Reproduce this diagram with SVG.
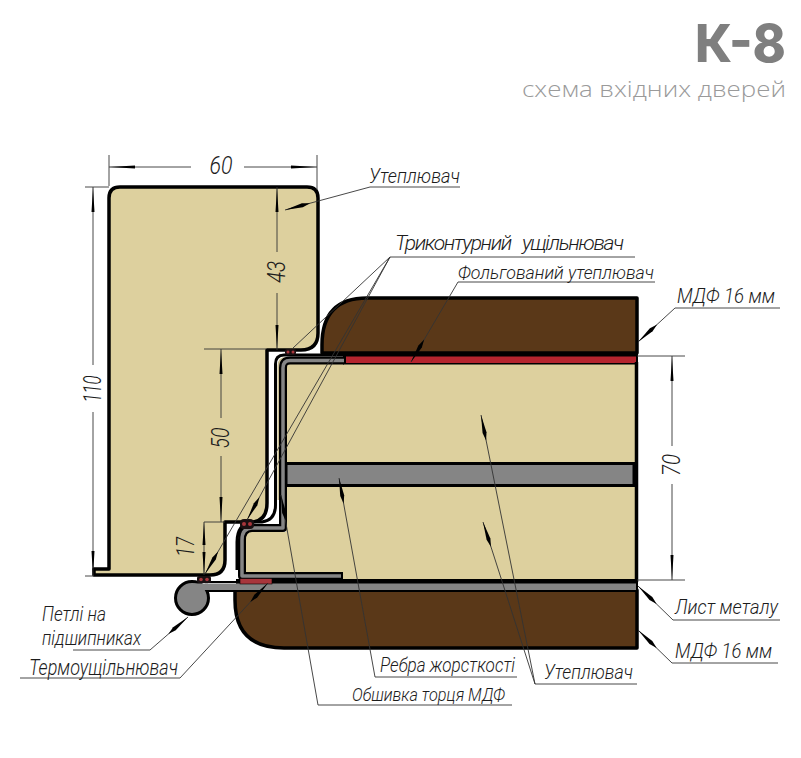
<svg xmlns="http://www.w3.org/2000/svg" width="801" height="758" viewBox="0 0 801 758">
<style>
.o{stroke:#000;stroke-width:3.500;stroke-linejoin:round}
.core{fill:#DDD09E}
.mdf{fill:#5A3818}
.ln{fill:none;stroke:#333;stroke-width:.9}
.l{font-family:"Roboto","Liberation Sans",sans-serif;font-style:italic;font-weight:300;font-size:21px;fill:#1c1c1c}
.d{font-family:"Roboto","Liberation Sans",sans-serif;font-style:italic;font-weight:300;font-size:25px;fill:#1c1c1c;text-anchor:middle}
.seal{fill:#1a1012}
.dot{fill:#A8363C}
</style>
<defs>
<marker id="a" markerUnits="userSpaceOnUse" markerWidth="30" markerHeight="6" refX="26" refY="3" orient="auto" overflow="visible">
<path d="M0,3 L8,1 L26,3 L8,5 Z" fill="#000"/>
</marker>
</defs>
<rect width="801" height="758" fill="#fff"/>
<g id="title">
<text x="695" y="62" font-family="Inter,'Liberation Sans',sans-serif" font-weight="800" font-size="52" fill="#7f7f7f" textLength="91" lengthAdjust="spacingAndGlyphs">К-8</text>
<text x="522" y="97" font-family="'Open Sans','Liberation Sans',sans-serif" font-weight="300" font-size="22" fill="#9a9a9a" textLength="264" lengthAdjust="spacingAndGlyphs">схема вхідних дверей</text>
</g>
<g id="frame">
<path class="core o" d="M94,569 H109 V198 Q109,187 120,187 H307 Q318,187 318,198 V333 Q318,350 301,350 H267 V503 Q267,522 250,522 H225 V560 Q225,575 210,575 H94 Z"/>
</g>
<g id="door">
<path class="mdf o" d="M322,353 V345 Q322,298 367,298 H637 V353 Z"/>
<path class="mdf o" d="M235,590 V600 Q235,648 284,648 H637 V590 Z"/>
<rect class="core" x="286" y="362" width="350" height="218"/>
<rect class="core" x="245" y="532" width="60" height="42"/>
<rect x="343" y="352" width="295" height="12.500" fill="#000"/>
<rect x="346" y="356.500" width="290" height="6.500" fill="#B5252E"/>
<path d="M636.500,362 V582" stroke="#000" stroke-width="3.500"/>
<rect x="286" y="463.500" width="348" height="22" fill="#858585" stroke="#000" stroke-width="3"/>
<rect x="236" y="579" width="402" height="13" fill="#000"/>
<rect x="205" y="583.500" width="431" height="6.500" fill="#858585"/>
<path d="M196,582 H240" stroke="#000" stroke-width="2"/>
<path d="M205,591 H240" stroke="#000" stroke-width="2"/>
<path d="M344,355 H284 Q275.500,355 275.500,364 V505 Q275.500,520 262,522 H252 Q237,524 237,542 V570" fill="none" stroke="#000" stroke-width="3"/>
<path d="M344,358 H286 Q278.500,358 278.500,366 V500" fill="none" stroke="#C9BE90" stroke-width="2"/>
<path d="M344,360.500 H290 Q283,360.500 283,368 V528 H252 Q242,528 242,540 V576 H343" fill="none" stroke="#000" stroke-width="8" stroke-linejoin="round"/>
<path d="M344,360.500 H290 Q283,360.500 283,368 V528 H252 Q242,528 242,540 V576 H341" fill="none" stroke="#858585" stroke-width="3.500" stroke-linejoin="round"/>
</g>
<g id="hinge">
<circle cx="192" cy="598" r="16.500" fill="#858585" stroke="#000" stroke-width="3"/>
<rect x="192" y="583.500" width="16" height="6.500" fill="#858585"/>
</g>
<g id="seals">
<rect class="seal" x="285" y="349" width="11" height="6" rx="2"/><circle class="dot" cx="288" cy="352" r="1.500"/><circle class="dot" cx="293" cy="352" r="1.500"/>
<rect class="seal" x="240" y="519" width="14" height="10" rx="4"/><circle class="dot" cx="244" cy="524" r="2"/><circle class="dot" cx="250" cy="524" r="2"/>
<rect class="seal" x="197" y="576" width="14" height="7" rx="2"/><circle class="dot" cx="201" cy="579.500" r="1.800"/><circle class="dot" cx="207" cy="579.500" r="1.800"/>
<rect x="240" y="578.500" width="32" height="5.500" fill="#A8363C" stroke="#000" stroke-width=".6"/>
</g>
<g id="connectors">
<path class="ln" d="M109,155 V186 M317,155 V190 M109,167 H191 M244,167 H317"/>
<path d="M109,167 L135,165.500 V168.500 Z M317,167 L291,165.500 V168.500 Z"/>
<path class="ln" d="M85,187 H109 M85,576 H94 M93,187 V365 M93,412 V576"/>
<path d="M93,187 L91.500,212 H94.500 Z M93,576 L91.500,551 H94.500 Z"/>
<path class="ln" d="M277,187 V252 M277,293 V350"/>
<path d="M277,187 L275.500,212 H278.500 Z M277,350 L275.500,325 H278.500 Z"/>
<path class="ln" d="M204,349 H266 M221,349 V418 M221,456 V522"/>
<path d="M221,349 L219.500,374 H222.500 Z M221,522 L219.500,497 H222.500 Z"/>
<path class="ln" d="M204,522 H225 M204,522 V575"/>
<path d="M204,522 L202.500,545 H205.500 Z M204,575 L202.500,552 H205.500 Z"/>
<path class="ln" d="M637,356 H685 M637,580 H685 M672,356 V446 M672,484 V580"/>
<path d="M672,356 L670.500,381 H673.500 Z M672,580 L670.500,555 H673.500 Z"/>
<path class="ln" d="M460,187 H370"/><path class="ln" d="M370,187 L285,210" marker-end="url(#a)"/>
<path class="ln" d="M635,257 H390"/>
<path class="ln" d="M390,257 L293,348"/>
<path class="ln" d="M390,257 L247,520" marker-end="url(#a)"/>
<path class="ln" d="M390,257 L205,574" marker-end="url(#a)"/>
<path class="ln" d="M655,282 H458 L411,362" marker-end="url(#a)"/>
<path class="ln" d="M780,308 H675 L638,342" marker-end="url(#a)"/>
<path class="ln" d="M780,620 H673 L638,586" marker-end="url(#a)"/>
<path class="ln" d="M778,663 H672 L638,630" marker-end="url(#a)"/>
<path class="ln" d="M637,684 H535 L481,415" marker-end="url(#a)"/>
<path class="ln" d="M535,684 L483,522" marker-end="url(#a)"/>
<path class="ln" d="M517,677 H375 L339,478" marker-end="url(#a)"/>
<path class="ln" d="M512,705 H318 L281,495" marker-end="url(#a)"/>
<path class="ln" d="M73,650 H150 L188,617" marker-end="url(#a)"/>
<path class="ln" d="M20,678 H180 L268,583" marker-end="url(#a)"/>
</g>
<g id="labels">
<text class="d" x="221" y="174" textLength="23" lengthAdjust="spacingAndGlyphs">60</text>
<text class="d" transform="translate(101,389) rotate(-90)" textLength="27" lengthAdjust="spacingAndGlyphs">110</text>
<text class="d" transform="translate(285,272) rotate(-90)" textLength="22" lengthAdjust="spacingAndGlyphs">43</text>
<text class="d" transform="translate(229,438) rotate(-90)" textLength="21" lengthAdjust="spacingAndGlyphs">50</text>
<text class="d" transform="translate(194,547) rotate(-90)" textLength="20" lengthAdjust="spacingAndGlyphs">17</text>
<text class="d" transform="translate(680,465) rotate(-90)" textLength="22" lengthAdjust="spacingAndGlyphs">70</text>
<text class="l" x="369" y="183" textLength="91" lengthAdjust="spacingAndGlyphs">Утеплювач</text>
<text class="l" x="395" y="250" textLength="229" lengthAdjust="spacing" xml:space="preserve">Триконтурний   ущільнювач</text>
<text class="l" x="458" y="279" textLength="196" lengthAdjust="spacingAndGlyphs" style="font-size:19px">Фольгований утеплювач</text>
<text class="l" x="677" y="303" textLength="98" lengthAdjust="spacingAndGlyphs">МДФ 16 мм</text>
<text class="l" x="675" y="614" textLength="103" lengthAdjust="spacingAndGlyphs">Лист металу</text>
<text class="l" x="675" y="658" textLength="97" lengthAdjust="spacingAndGlyphs">МДФ 16 мм</text>
<text class="l" x="544" y="679" textLength="89" lengthAdjust="spacingAndGlyphs">Утеплювач</text>
<text class="l" x="380" y="672" textLength="135" lengthAdjust="spacingAndGlyphs">Ребра жорсткості</text>
<text class="l" x="352" y="701" textLength="153" lengthAdjust="spacingAndGlyphs" style="font-size:19px">Обшивка торця МДФ</text>
<text class="l" x="42" y="621" textLength="64" lengthAdjust="spacingAndGlyphs">Петлі на</text>
<text class="l" x="42" y="645" textLength="99" lengthAdjust="spacingAndGlyphs">підшипниках</text>
<text class="l" x="29" y="675" textLength="149" lengthAdjust="spacingAndGlyphs" style="font-size:22px">Термоущільнювач</text>
</g>
</svg>
